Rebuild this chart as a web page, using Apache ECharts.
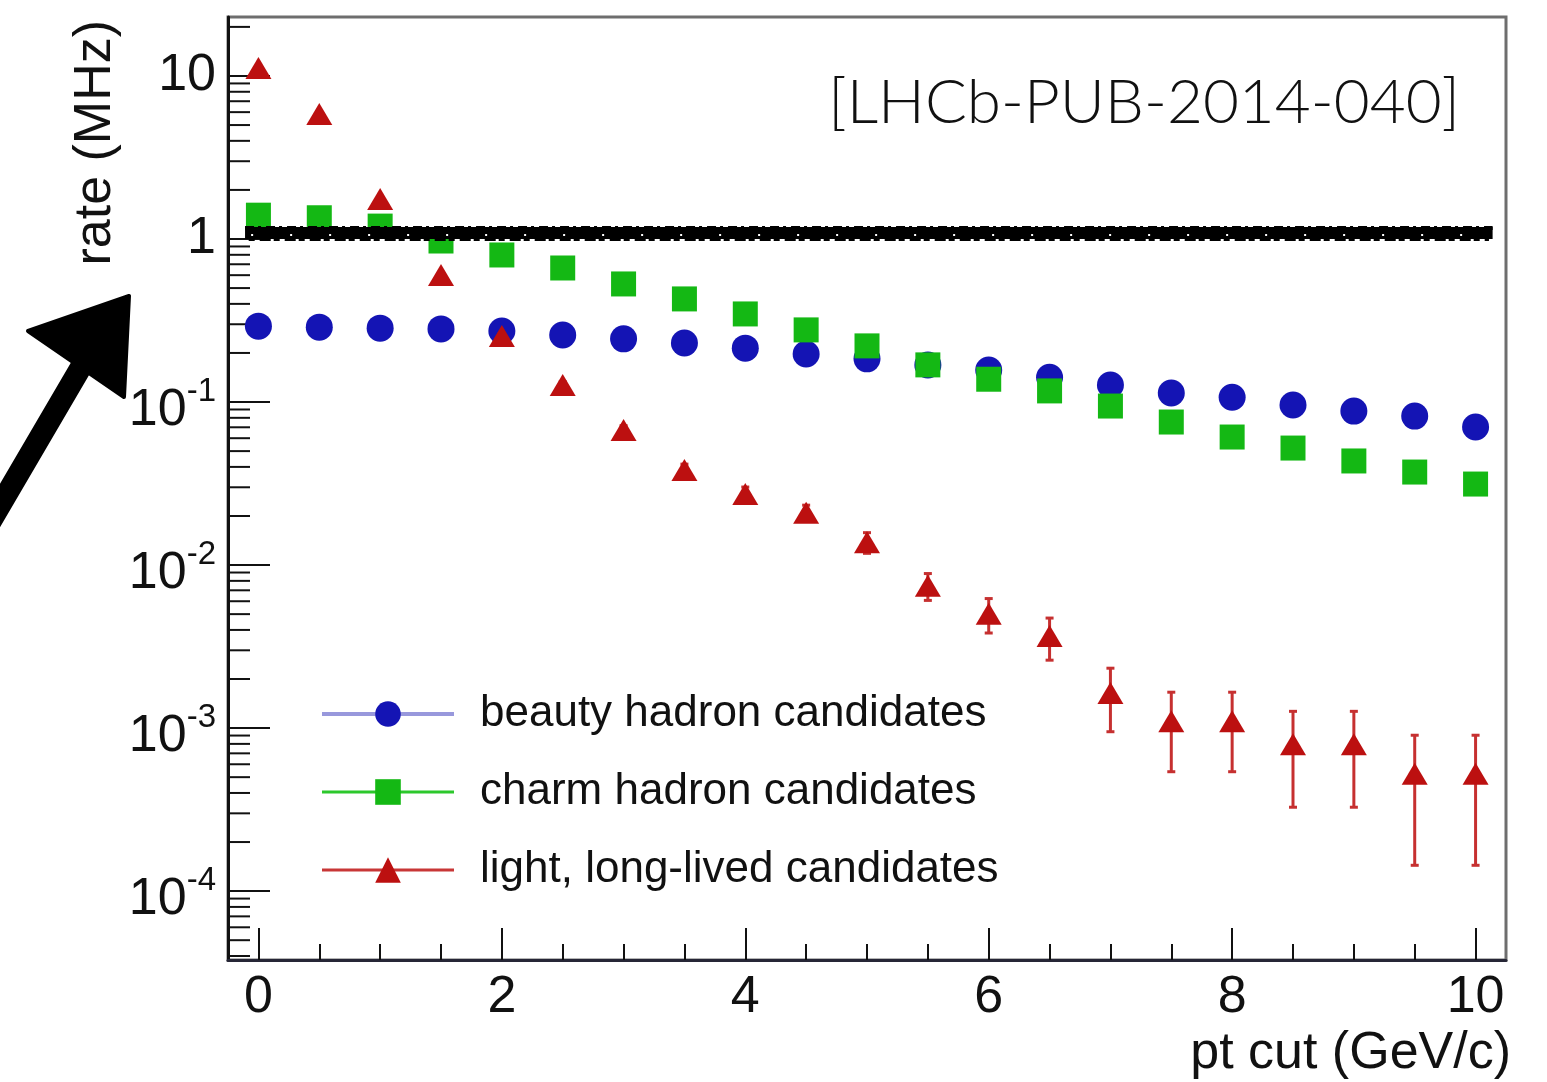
<!DOCTYPE html>
<html>
<head>
<meta charset="utf-8">
<script src="https://cdn.jsdelivr.net/npm/echarts@6/dist/echarts.min.js"></script>
<style>
html, body { margin: 0; padding: 0; background: #ffffff; }
#chart { width: 1547px; height: 1082px; }
</style>
</head>
<body>
<div id="chart"></div>
<script>
// pt cut values (GeV/c)
const ptCut = [0, 0.5, 1, 1.5, 2, 2.5, 3, 3.5, 4, 4.5, 5, 5.5, 6, 6.5, 7, 7.5, 8, 8.5, 9, 9.5, 10];

// rates in MHz
const beautyRate = [0.292, 0.288, 0.284, 0.281, 0.273, 0.258, 0.244, 0.230, 0.214, 0.197, 0.184,
                    0.169, 0.157, 0.142, 0.127, 0.1135, 0.107, 0.096, 0.088, 0.082, 0.0703];
const charmRate  = [1.40, 1.35, 1.20, 0.972, 0.798, 0.664, 0.530, 0.429, 0.347, 0.277, 0.221,
                    0.169, 0.138, 0.117, 0.0945, 0.0754, 0.061, 0.0522, 0.0435, 0.0372, 0.0314];
const lightRate  = [11.2, 5.85, 1.76, 0.601, 0.254, 0.127, 0.0673, 0.0383, 0.0273, 0.0209, 0.0138,
                    0.00747, 0.00503, 0.00367, 0.00164, 0.00110, 0.00110, 0.000797, 0.000797, 0.000524, 0.000524];
const lightErr   = [0.056, 0.040, 0.022, 0.013, 0.0084, 0.006, 0.0043, 0.0033, 0.0028, 0.0024, 0.0020,
                    0.0014, 0.0012, 0.00106, 0.00069, 0.00056, 0.00056, 0.00047, 0.00047, 0.00038, 0.00038];

const seriesNames = ['beauty hadron candidates', 'charm hadron candidates', 'light, long-lived candidates'];

// axis ticks
const xMajorTicks = [0, 2, 4, 6, 8, 10];
const xMinorTicks = [0.5, 1, 1.5, 2.5, 3, 3.5, 4.5, 5, 5.5, 6.5, 7, 7.5, 8.5, 9, 9.5];
const yMajorTicks = [1e-4, 1e-3, 1e-2, 1e-1, 1, 10];
const yMinorTicks = [];
[1e-5].concat(yMajorTicks).forEach(function (d) {
  for (let m = 2; m <= 9; m++) yMinorTicks.push(+(d * m).toPrecision(3));
});

// reference level (1 MHz output rate) and axis ranges
const refLevel = 1.09;
const refSpan = [-0.11, 10.14];
const xRange = [-0.25, 10.25];
const yRange = [3.78e-5, 23.0];

const FONT = '"Liberation Sans", Arial, Helvetica, sans-serif';
const COL_B = '#1414b4', COL_C = '#14b814', COL_L = '#bc1010';

const GRID = { left: 228, right: 41, top: 17, bottom: 122 };
const gridH = 1082 - GRID.top - GRID.bottom;

function yLabel(v) {
  const e = Math.round(Math.log10(v));
  if (e === 0) return '{p|1}';
  if (e === 1) return '{p|10}';
  return '{b|10}{s|' + e + '}';
}

const chart = echarts.init(document.getElementById('chart'), null, { renderer: 'canvas' });

// minor tick marks along the left edge, placed through the axes' own scales
function minorTickSeries() {
  return {
    name: 'y-minor', type: 'custom', xAxisIndex: 0, yAxisIndex: 0, z: 2, silent: true,
    data: yMinorTicks.filter(v => v > yRange[0] && v < yRange[1]).map(v => [xRange[0], v]),
    renderItem: function (params, api) {
      const p = api.coord([api.value(0), api.value(1)]);
      return { type: 'line', shape: { x1: p[0], y1: p[1], x2: p[0] + 22, y2: p[1] }, style: { stroke: '#111', lineWidth: 2 } };
    }
  };
}

const option = {
  animation: false,
  backgroundColor: '#ffffff',
  grid: Object.assign({ show: true, borderColor: '#6e6e6e', borderWidth: 3, containLabel: false }, GRID),
  xAxis: [
    {
      type: 'value', min: xRange[0], max: xRange[1], position: 'bottom',
      axisLine: { show: true, onZero: false, lineStyle: { color: '#262636', width: 3 } },
      axisTick: { show: true, inside: true, length: 32, customValues: xMajorTicks, lineStyle: { color: '#111', width: 2 } },
      axisLabel: { customValues: xMajorTicks, fontSize: 52, margin: 12, color: '#111', fontFamily: FONT },
      splitLine: { show: false }
    },
    {
      type: 'value', min: xRange[0], max: xRange[1], position: 'top', offset: -gridH,
      axisLine: { show: false, onZero: false },
      axisTick: { show: true, inside: false, length: 16, customValues: xMinorTicks, lineStyle: { color: '#111', width: 2 } },
      axisLabel: { show: false },
      splitLine: { show: false }
    }
  ],
  yAxis: [
    {
      type: 'log', logBase: 10, min: yRange[0], max: yRange[1], position: 'left',
      axisLine: { show: true, onZero: false, lineStyle: { color: '#111', width: 3 } },
      axisTick: { show: true, inside: true, length: 42, customValues: yMajorTicks, lineStyle: { color: '#111', width: 2 } },
      axisLabel: {
        customValues: yMajorTicks, margin: 12, color: '#111', fontFamily: FONT,
        formatter: yLabel,
        rich: {
          p: { fontSize: 52, fontFamily: FONT, color: '#111' },
          b: { fontSize: 52, fontFamily: FONT, color: '#111', lineHeight: 54, padding: [18, 0, 0, 0] },
          s: { fontSize: 33, fontFamily: FONT, color: '#111', lineHeight: 42, verticalAlign: 'top' }
        }
      },
      splitLine: { show: false }
    }
  ],
  legend: {
    orient: 'vertical', left: 320, top: 692, padding: 0,
    itemWidth: 132, itemHeight: 32, itemGap: 34,
    textStyle: { fontSize: 44, fontFamily: FONT, color: '#111', padding: [0, 0, 0, 21] },
    data: [
      { name: seriesNames[0], lineStyle: { color: '#9898dc', width: 4, opacity: 1 } },
      { name: seriesNames[1], lineStyle: { color: '#2cc82c', width: 3, opacity: 1 } },
      { name: seriesNames[2], lineStyle: { color: '#c83636', width: 3, opacity: 1 } }
    ]
  },
  graphic: [
    {
      type: 'text', x: 1460, y: 103,
      style: { text: '[LHCb-PUB-2014-040]', fontSize: 62, fontWeight: 300, fontFamily: 'Lato, "Open Sans", sans-serif',
               fill: '#111', align: 'right', verticalAlign: 'middle' }
    },
    {
      type: 'text', x: 96, y: 20, rotation: Math.PI / 2,
      style: { text: 'rate (MHz)', fontSize: 52, fontFamily: FONT, fill: '#111', align: 'right', verticalAlign: 'middle' }
    },
    {
      type: 'text', x: 1511, y: 1054,
      style: { text: 'pt cut (GeV/c)', fontSize: 52, fontFamily: FONT, fill: '#111', align: 'right', verticalAlign: 'middle' }
    },
    {
      type: 'polyline', z: 100,
      shape: { points: [[-12, 526], [84, 362]] },
      style: { stroke: '#000', lineWidth: 22, fill: null, lineCap: 'round' }
    },
    {
      type: 'polygon', z: 100,
      shape: { points: [[28, 331], [129, 296], [124, 397]] },
      style: { fill: '#000', stroke: '#000', lineWidth: 4, lineJoin: 'round' }
    }
  ],
  series: [
    minorTickSeries(),
    {
      name: seriesNames[0], type: 'line', xAxisIndex: 0, yAxisIndex: 0,
      data: ptCut.map((x, i) => [x, beautyRate[i]]),
      symbol: 'circle', symbolSize: 27, showAllSymbol: true,
      itemStyle: { color: COL_B }, lineStyle: { opacity: 0 }, z: 3
    },
    {
      name: seriesNames[1], type: 'line', xAxisIndex: 0, yAxisIndex: 0,
      data: ptCut.map((x, i) => [x, charmRate[i]]),
      symbol: 'rect', symbolSize: 25, showAllSymbol: true,
      itemStyle: { color: COL_C }, lineStyle: { opacity: 0 }, z: 4
    },
    {
      name: 'light-err', type: 'custom', xAxisIndex: 0, yAxisIndex: 0, z: 5,
      data: ptCut.map((x, i) => [x, lightRate[i], lightErr[i]]),
      renderItem: function (params, api) {
        const x = api.value(0), v = api.value(1), e = api.value(2);
        const top = api.coord([x, v + e]);
        const bot = api.coord([x, Math.max(v - e, yRange[0])]);
        const cap = 4;
        const st = { stroke: '#c63030', lineWidth: 3 };
        return {
          type: 'group',
          children: [
            { type: 'line', shape: { x1: top[0], y1: top[1], x2: bot[0], y2: bot[1] }, style: st },
            { type: 'line', shape: { x1: top[0] - cap, y1: top[1], x2: top[0] + cap, y2: top[1] }, style: st },
            { type: 'line', shape: { x1: bot[0] - cap, y1: bot[1], x2: bot[0] + cap, y2: bot[1] }, style: st }
          ]
        };
      }
    },
    {
      name: seriesNames[2], type: 'line', xAxisIndex: 0, yAxisIndex: 0,
      data: ptCut.map((x, i) => [x, lightRate[i]]),
      symbol: 'triangle', symbolSize: [26, 22], showAllSymbol: true,
      itemStyle: { color: COL_L }, lineStyle: { opacity: 0 }, z: 6
    },
    {
      name: 'limit', type: 'line', xAxisIndex: 0, yAxisIndex: 0, data: [], z: 20,
      markLine: {
        silent: true, symbol: ['none', 'none'], label: { show: false },
        lineStyle: { color: '#000', width: 12, type: 'solid', opacity: 1 },
        data: [
          [{ coord: [refSpan[0], refLevel] }, { coord: [refSpan[1], refLevel] }],
          [{ coord: [refSpan[0], refLevel * 1.08], lineStyle: { width: 4, type: [9, 4, 3, 5], color: '#000' } },
           { coord: [refSpan[1], refLevel * 1.08] }],
          [{ coord: [refSpan[0] + 0.03, refLevel / 1.08], lineStyle: { width: 4, type: [6, 5, 11, 3], color: '#000' } },
           { coord: [refSpan[1] - 0.03, refLevel / 1.08] }],
          [{ coord: [refSpan[0] + 0.05, refLevel / 1.03], lineStyle: { width: 2, type: [2, 37], color: '#fff' } },
           { coord: [refSpan[1] - 0.05, refLevel / 1.03] }]
        ]
      }
    }
  ]
};

chart.setOption(option);
</script>
</body>
</html>
